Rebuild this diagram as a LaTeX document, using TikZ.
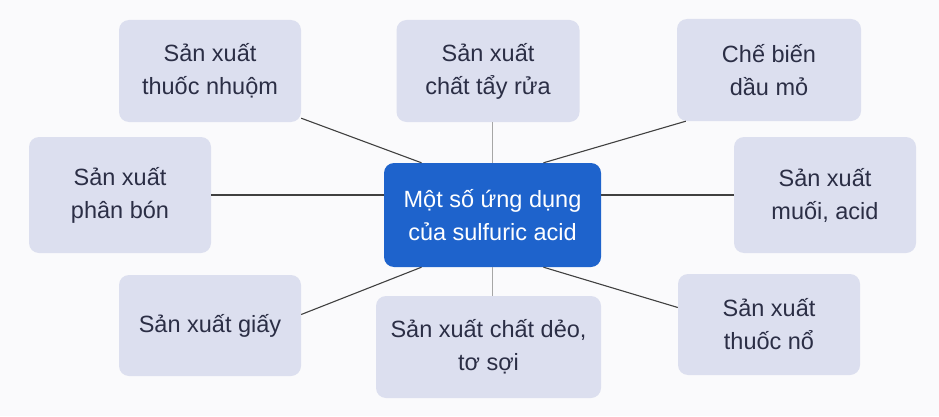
\documentclass[tikz,border=0pt]{standalone}
\usepackage{fontspec}
\setmainfont{Liberation Sans}
\definecolor{boxfill}{HTML}{DCDFEF}
\definecolor{mainblue}{HTML}{1E63CC}
\definecolor{txt}{HTML}{2B2E45}
\definecolor{bgcol}{HTML}{FAFAFC}

\begin{document}
\begin{tikzpicture}[x=1pt, y=1pt,
		ungdung/.style = {fill = boxfill, rounded corners = 10pt, text = txt, align = center,
			inner sep = 0pt, minimum width = 182pt, minimum height = 102pt,
			font = \fontsize{23.5}{33}\selectfont},
		trungtam/.style = {ungdung, fill = mainblue, text = white, minimum width = 217pt, minimum height = 104pt},
		noi/.style = {draw = black!75, line width = 1.1pt},
		noidoc/.style = {draw = black!35, line width = 1.1pt}]
		\fill[bgcol] (0,0) rectangle (939,416);
		\useasboundingbox (0,0) rectangle (939,416);
		\node [trungtam] (c) at (492.5,201) {Một số ứng dụng\\của sulfuric acid};
		\node [ungdung] (nhuom) at (210,345) {Sản xuất\\thuốc nhuộm};
		\node [ungdung, minimum width = 183pt] (tayrua) at (488,345) {Sản xuất\\chất tẩy rửa};
		\node [ungdung, minimum width = 184pt] (daumo) at (769,346) {Chế biến\\dầu mỏ};
		\node [ungdung, minimum height = 116pt] (phanbon) at (120,221) {Sản xuất\\phân bón};
		\node [ungdung, minimum height = 116pt] (muoi) at (825,221) {Sản xuất\\muối, acid};
		\node [ungdung, minimum height = 101pt] (giay) at (210,90.5) {Sản xuất giấy};
		\node [ungdung, minimum width = 225pt] (deo) at (488.5,69) {Sản xuất chất dẻo,\\tơ sợi};
		\node [ungdung, minimum height = 101pt] (thuocno) at (769,91.5) {Sản xuất\\thuốc nổ};
		\draw [noi] ([xshift = -71pt]c.north) -- ([yshift = 4pt]nhuom.south east);
		\draw [noi] ([xshift = 51pt]c.north) -- ([xshift = 9pt]daumo.south west);
		\draw [noi] (phanbon.east) -- (c.west |- phanbon.east);
		\draw [noi] (c.east |- muoi.west) -- (muoi.west);
		\draw [noidoc] (c.north) -- (c.north |- tayrua.south);
		\draw [noidoc] (c.south) -- (c.south |- deo.north);
		\draw [noi] ([xshift = -71pt]c.south) -- ([yshift = 11pt]giay.east);
		\draw [noi] ([xshift = 51pt]c.south) -- ([yshift = 17pt]thuocno.west);
	\end{tikzpicture}
\end{document}
